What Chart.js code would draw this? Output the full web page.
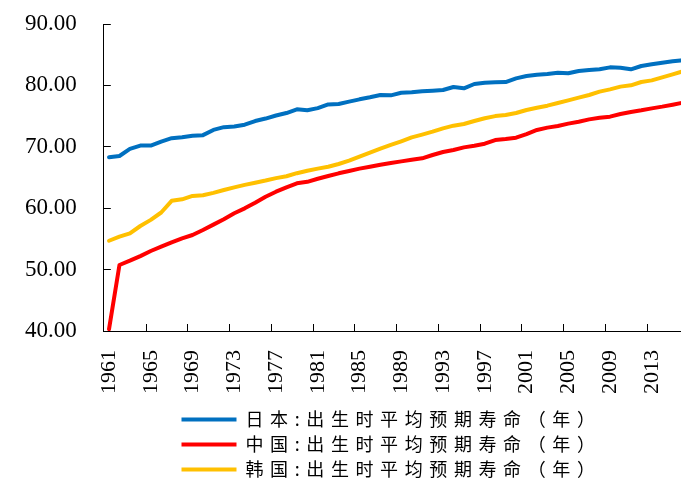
<!DOCTYPE html>
<html>
<head>
<meta charset="utf-8">
<script src="https://cdn.jsdelivr.net/npm/chart.js@4/dist/chart.umd.min.js"></script>
<style>
  html, body { margin: 0; padding: 0; background: #fff; overflow: hidden; }
  #wrap { width: 681px; height: 493px; overflow: hidden; }
  canvas { display: block; }
</style>
</head>
<body>
<div id="wrap"><canvas id="c" width="783" height="493" style="width:783px;height:493px"></canvas></div>
<script>
// 年份 1961–2016
const years = Array.from({ length: 56 }, (_, i) => String(1961 + i));

// 出生时平均预期寿命（年）
const japan = [
  68.3, 68.5, 69.65, 70.2, 70.2, 70.85, 71.4, 71.55, 71.8, 71.9,
  72.75, 73.2, 73.3, 73.6, 74.2, 74.6, 75.1, 75.5, 76.1, 75.95,
  76.3, 76.9, 76.97, 77.35, 77.73, 78.06, 78.44, 78.38, 78.8, 78.87,
  79.03, 79.14, 79.25, 79.74, 79.52, 80.23, 80.44, 80.5, 80.55, 81.15,
  81.53, 81.75, 81.86, 82.07, 81.97, 82.35, 82.51, 82.62, 82.94, 82.89,
  82.62, 83.16, 83.43, 83.7, 83.92, 84.1
];
const china = [
  40.3, 50.75, 51.45, 52.2, 53.03, 53.73, 54.44, 55.1, 55.63, 56.45,
  57.32, 58.2, 59.17, 59.98, 60.9, 61.87, 62.69, 63.4, 64.05, 64.3,
  64.8, 65.24, 65.68, 66.06, 66.44, 66.76, 67.09, 67.36, 67.63, 67.9,
  68.12, 68.66, 69.15, 69.48, 69.91, 70.18, 70.5, 71.1, 71.27, 71.49,
  72.08, 72.74, 73.12, 73.39, 73.77, 74.09, 74.47, 74.74, 74.91, 75.34,
  75.67, 75.94, 76.26, 76.54, 76.86, 77.2
];
const korea = [
  54.7, 55.36, 55.9, 57.1, 58.1, 59.3, 61.2, 61.45, 62.0, 62.1,
  62.5, 62.96, 63.4, 63.8, 64.15, 64.5, 64.9, 65.2, 65.7, 66.1,
  66.45, 66.76, 67.2, 67.74, 68.4, 69.04, 69.7, 70.3, 70.9, 71.54,
  71.98, 72.46, 73.0, 73.44, 73.71, 74.2, 74.65, 75.0, 75.18, 75.5,
  76.0, 76.37, 76.7, 77.13, 77.57, 78.0, 78.44, 78.98, 79.36, 79.8,
  80.01, 80.55, 80.82, 81.31, 81.8, 82.3
];

const seriesNames = [
  '日本:出生时平均预期寿命（年）',
  '中国:出生时平均预期寿命（年）',
  '韩国:出生时平均预期寿命（年）'
];
const seriesColors = ['#0070C0', '#FF0000', '#FFC000'];

const LABEL_EVERY = 4;
const TICK_LEN = 7;
const AXIS_COLOR = '#000';
const LEGEND_SPACING = '6.6px';

Chart.defaults.color = '#000';

// short tick marks pointing into the plot area
const innerTicks = {
  id: 'innerTicks',
  beforeDatasetsDraw(chart) {
    const { ctx, scales: { x, y } } = chart;
    const half = (x.getPixelForValue(1) - x.getPixelForValue(0)) / 2;
    ctx.save();
    ctx.strokeStyle = AXIS_COLOR;
    ctx.lineWidth = 1;
    ctx.beginPath();
    for (let i = LABEL_EVERY; i < x.ticks.length; i += LABEL_EVERY) {
      const px = Math.round(x.getPixelForValue(i) - half) + 0.5;
      ctx.moveTo(px, y.bottom);
      ctx.lineTo(px, y.bottom - TICK_LEN);
    }
    y.ticks.forEach(t => {
      const py = Math.round(y.getPixelForValue(t.value) - 0.5) + 0.5;
      ctx.moveTo(x.left, py);
      ctx.lineTo(x.left + TICK_LEN, py);
    });
    ctx.stroke();
    ctx.restore();
  }
};

// spaced-out legend text, legend centred on the whole canvas
const legendLayout = {
  id: 'legendLayout',
  beforeUpdate(chart) {
    const lg = chart.legend;
    if (!lg || lg._spaced) return;
    lg._spaced = true;
    const fit = lg.fit, draw = lg.draw;
    lg.fit = function () {
      const c = this.ctx; c.save(); c.letterSpacing = LEGEND_SPACING;
      fit.call(this); c.restore();
    };
    lg.draw = function () {
      const c = this.ctx; c.save(); c.letterSpacing = LEGEND_SPACING;
      draw.call(this); c.restore();
    };
  },
  afterLayout(chart) {
    const lg = chart.legend;
    if (!lg) return;
    lg.left = 0;
    lg.right = chart.width;
    lg.width = chart.width;
  }
};

const datasets = [japan, china, korea].map((values, k) => ({
  label: seriesNames[k],
  data: values,
  borderColor: seriesColors[k],
  backgroundColor: seriesColors[k],
  borderWidth: 4,
  borderCapStyle: 'round',
  borderJoinStyle: 'round',
  pointRadius: 0,
  pointHoverRadius: 0,
  tension: 0,
  fill: false
}));

new Chart(document.getElementById('c'), {
  type: 'line',
  data: { labels: years, datasets },
  plugins: [innerTicks, legendLayout],
  options: {
    responsive: false,
    animation: false,
    events: [],
    layout: { padding: { top: 24, right: 94.7, bottom: 4.5, left: 25 } },
    scales: {
      x: {
        type: 'category',
        offset: true,
        grid: { display: true, drawOnChartArea: false, drawTicks: false },
        border: { display: true, color: AXIS_COLOR, width: 1 },
        ticks: {
          autoSkip: false,
          maxRotation: 90,
          minRotation: 90,
          padding: 19,
          color: '#000',
          font: { family: '"Liberation Serif", "Times New Roman", serif', size: 22 },
          callback: (v, i) => (i % LABEL_EVERY === 0 ? years[i] : '')
        },
        afterFit: s => { s.height = 72.5; }
      },
      y: {
        min: 40,
        max: 90,
        grid: { display: true, drawOnChartArea: false, drawTicks: false },
        border: { display: true, color: AXIS_COLOR, width: 1 },
        ticks: {
          stepSize: 10,
          padding: 0,
          crossAlign: 'far',
          color: '#000',
          font: { family: '"Liberation Serif", "Times New Roman", serif', size: 23 },
          callback: v => Number(v).toFixed(2)
        },
        afterFit: s => { s.width = 78.8; }
      }
    },
    plugins: {
      title: { display: false },
      tooltip: { enabled: false },
      legend: {
        display: true,
        position: 'bottom',
        labels: {
          usePointStyle: true,
          pointStyle: 'line',
          pointStyleWidth: 55,
          boxHeight: 4,
          padding: 7,
          color: '#000',
          font: { family: '"Noto Sans CJK SC", sans-serif', size: 18 }
        }
      }
    }
  }
});
</script>
</body>
</html>
